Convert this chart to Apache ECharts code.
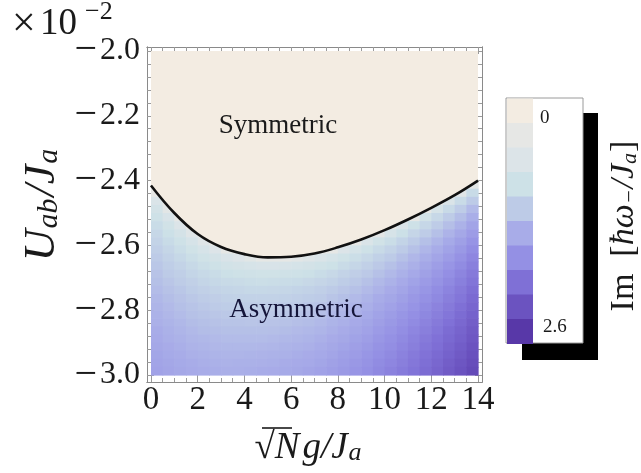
<!DOCTYPE html>
<html><head><meta charset="utf-8">
<script src="https://cdn.jsdelivr.net/npm/echarts@6/dist/echarts.min.js"></script>
<style>html,body{margin:0;padding:0;background:#fff}#c{width:641px;height:473px}</style>
</head><body><div id="c"></div>
<script>
// ---- data ----
const xTickValues = [0, 2, 4, 6, 8, 10, 12, 14];
const yTickValues = [-3.0, -2.8, -2.6, -2.4, -2.2, -2.0];
const colX = [0.25, 0.75, 1.25, 1.75, 2.25, 2.75, 3.25, 3.75, 4.25, 4.75, 5.25, 5.75, 6.25, 6.75,
  7.25, 7.75, 8.25, 8.75, 9.25, 9.75, 10.25, 10.75, 11.25, 11.75, 12.25, 12.75, 13.25, 13.75];
const rowY = [-2.4125, -2.4375, -2.4625, -2.4875, -2.5125, -2.5375, -2.5625, -2.5875, -2.6125, -2.6375,
  -2.6625, -2.6875, -2.7125, -2.7375, -2.7625, -2.7875, -2.8125, -2.8375, -2.8625, -2.8875,
  -2.9125, -2.9375, -2.9625, -2.9875];
// Im[hbar w_-/J_a], one array per column (x = colX[j]), rows top to bottom (y = rowY[i])
const imByColumn = [
  [0.30,0.30,0.61,0.76,0.85,0.93,1.00,1.05,1.10,1.15,1.19,1.23,1.26,1.30,1.33,1.36,1.39,1.41,1.44,1.46,1.49,1.51,1.53,1.55],
  [0,0.30,0.30,0.41,0.66,0.79,0.88,0.95,1.01,1.07,1.12,1.16,1.20,1.24,1.28,1.31,1.34,1.37,1.40,1.42,1.45,1.47,1.50,1.52],
  [0,0,0,0.30,0.30,0.57,0.73,0.84,0.92,0.99,1.05,1.10,1.14,1.19,1.23,1.26,1.30,1.33,1.36,1.39,1.42,1.44,1.47,1.49],
  [0,0,0,0,0.30,0.30,0.49,0.69,0.81,0.90,0.97,1.03,1.09,1.13,1.18,1.22,1.25,1.29,1.32,1.35,1.38,1.41,1.44,1.46],
  [0,0,0,0,0,0.30,0.30,0.48,0.69,0.81,0.90,0.97,1.03,1.09,1.14,1.18,1.22,1.26,1.29,1.33,1.36,1.39,1.42,1.44],
  [0,0,0,0,0,0,0.30,0.30,0.55,0.73,0.84,0.93,0.99,1.05,1.11,1.16,1.20,1.24,1.28,1.31,1.34,1.37,1.40,1.43],
  [0,0,0,0,0,0,0.30,0.30,0.30,0.63,0.78,0.88,0.96,1.03,1.08,1.13,1.18,1.22,1.26,1.30,1.33,1.36,1.39,1.42],
  [0,0,0,0,0,0,0,0.30,0.30,0.54,0.73,0.85,0.94,1.01,1.07,1.12,1.17,1.22,1.26,1.30,1.33,1.36,1.40,1.42],
  [0,0,0,0,0,0,0,0.30,0.30,0.43,0.69,0.82,0.92,0.99,1.06,1.12,1.17,1.21,1.26,1.30,1.33,1.37,1.40,1.43],
  [0,0,0,0,0,0,0,0.30,0.30,0.30,0.66,0.81,0.91,0.99,1.06,1.12,1.17,1.22,1.26,1.30,1.34,1.38,1.41,1.44],
  [0,0,0,0,0,0,0,0.30,0.30,0.30,0.66,0.81,0.92,1.00,1.07,1.13,1.18,1.23,1.27,1.31,1.35,1.39,1.42,1.45],
  [0,0,0,0,0,0,0,0.30,0.30,0.30,0.68,0.82,0.93,1.01,1.08,1.14,1.20,1.24,1.29,1.33,1.37,1.40,1.44,1.47],
  [0,0,0,0,0,0,0,0.30,0.30,0.40,0.71,0.85,0.95,1.04,1.10,1.16,1.22,1.27,1.31,1.35,1.39,1.43,1.46,1.49],
  [0,0,0,0,0,0,0,0.30,0.30,0.51,0.75,0.88,0.98,1.06,1.13,1.19,1.24,1.29,1.33,1.37,1.41,1.45,1.48,1.52],
  [0,0,0,0,0,0,0,0.30,0.30,0.61,0.80,0.93,1.02,1.10,1.16,1.22,1.27,1.32,1.36,1.41,1.44,1.48,1.51,1.55],
  [0,0,0,0,0,0,0.30,0.30,0.30,0.72,0.87,0.98,1.07,1.15,1.21,1.27,1.32,1.37,1.41,1.45,1.49,1.52,1.56,1.59],
  [0,0,0,0,0,0,0.30,0.30,0.58,0.81,0.94,1.05,1.13,1.20,1.26,1.31,1.36,1.41,1.45,1.49,1.53,1.57,1.60,1.63],
  [0,0,0,0,0,0,0.30,0.30,0.72,0.90,1.01,1.11,1.18,1.25,1.31,1.36,1.41,1.46,1.50,1.54,1.58,1.61,1.65,1.68],
  [0,0,0,0,0,0.30,0.30,0.61,0.85,0.98,1.09,1.17,1.25,1.31,1.37,1.42,1.47,1.51,1.55,1.59,1.63,1.67,1.70,1.73],
  [0,0,0,0,0.30,0.30,0.39,0.79,0.96,1.08,1.17,1.25,1.32,1.38,1.44,1.49,1.54,1.58,1.62,1.66,1.70,1.73,1.77,1.80],
  [0,0,0,0,0.30,0.30,0.70,0.92,1.05,1.16,1.25,1.32,1.39,1.45,1.50,1.55,1.60,1.64,1.68,1.72,1.75,1.79,1.82,1.86],
  [0,0,0,0.30,0.30,0.60,0.88,1.04,1.16,1.25,1.33,1.40,1.46,1.52,1.57,1.62,1.67,1.71,1.75,1.79,1.82,1.86,1.89,1.92],
  [0,0,0.30,0.30,0.30,0.84,1.02,1.15,1.25,1.34,1.41,1.48,1.54,1.60,1.65,1.69,1.74,1.78,1.82,1.86,1.89,1.93,1.96,1.99],
  [0,0,0.30,0.30,0.78,1.00,1.14,1.26,1.35,1.43,1.50,1.56,1.62,1.67,1.72,1.77,1.81,1.85,1.89,1.93,1.97,2.00,2.03,2.06],
  [0,0.30,0.30,0.70,0.98,1.14,1.26,1.36,1.44,1.52,1.59,1.65,1.70,1.76,1.80,1.85,1.89,1.93,1.97,2.01,2.04,2.08,2.11,2.14],
  [0.30,0.30,0.62,0.96,1.14,1.27,1.38,1.47,1.54,1.61,1.68,1.74,1.79,1.84,1.89,1.93,1.97,2.01,2.06,2.09,2.13,2.16,2.20,2.23],
  [0.30,0.46,0.94,1.14,1.28,1.39,1.49,1.57,1.64,1.71,1.77,1.83,1.88,1.93,1.97,2.02,2.06,2.10,2.14,2.17,2.21,2.24,2.28,2.31],
  [0.40,0.95,1.16,1.31,1.43,1.53,1.61,1.69,1.76,1.82,1.88,1.93,1.98,2.03,2.08,2.12,2.16,2.20,2.24,2.27,2.31,2.34,2.37,2.41]
];
const boundaryX = [0, 1, 2, 3, 4, 5, 6, 7, 8, 9, 10, 11, 12, 13, 14];
const boundaryY = [-2.415, -2.500, -2.565, -2.605, -2.627, -2.637, -2.635, -2.625, -2.606, -2.582, -2.553, -2.520, -2.484, -2.445, -2.400];
const scaleMin = 0, scaleMax = 2.6;
const scaleLabels = ['0', '2.6'];
const scaleColors = ['#F3ECE2','#E6E7E5','#DCE4E8','#CDE1E7','#BDCBE7','#A8ACE8','#9490E4','#7F70D6','#6B53C0','#5838A8'];

// ---- styles ----
const SERIF = '"Liberation Serif", "DejaVu Serif", serif';
const INK = '#1a1a1a';
const FRAME = '#8a8a8a';
const TICK = '#9a9a9a';
const X_MIN = -0.17, X_MAX = 14.17, Y_MIN = -3.0216, Y_MAX = -1.9877;

const xMinorTicks = [];
for (let k = 1; k < 28; k++) { if (k % 4 !== 0) xMinorTicks.push(k * 0.5); }
const yMinorTicks = [];
for (let k = 1; k < 25; k++) { if (k % 5 !== 0) yMinorTicks.push(+(-3 + 0.04 * k).toFixed(2)); }

const cellData = [];
imByColumn.forEach((col, j) => col.forEach((v, i) => cellData.push([colX[j], rowY[i], v])));
const CELL_HALF_W = 0.25, CELL_HALF_H = 0.0125;

function renderCell(params, api) {
  const x = api.value(0), y = api.value(1);
  const p0 = api.coord([x - CELL_HALF_W, y + CELL_HALF_H]);
  const p1 = api.coord([x + CELL_HALF_W, y - CELL_HALF_H]);
  return { type: 'rect', shape: { x: p0[0], y: p0[1], width: p1[0] - p0[0] + 0.6, height: p1[1] - p0[1] + 0.6 },
    style: { fill: api.visual('color') } };
}

function mkX(pos, ticks, len, labels) {
  return { type: 'value', position: pos, min: X_MIN, max: X_MAX,
    axisLine: { show: true, onZero: false, lineStyle: { color: FRAME, width: 1 } },
    axisTick: { show: true, inside: true, length: len, customValues: ticks, lineStyle: { color: TICK, width: 1 } },
    axisLabel: { show: labels, customValues: ticks, margin: 2, fontFamily: SERIF, fontSize: 33, color: INK },
    splitLine: { show: false } };
}
function mkY(pos, ticks, len, labels) {
  return { type: 'value', position: pos, min: Y_MIN, max: Y_MAX,
    axisLine: { show: true, onZero: false, lineStyle: { color: FRAME, width: 1 } },
    axisTick: { show: true, inside: true, length: len, customValues: ticks, lineStyle: { color: TICK, width: 1 } },
    axisLabel: { show: labels, customValues: ticks, margin: 7, color: INK,
      formatter: v => '{m|' + (v < 0 ? '\u2212' : '') + '}{n|' + Math.abs(v).toFixed(1) + '}',
      rich: { m: { fontFamily: SERIF, fontSize: 40, color: INK, padding: [0, 3, 0, 0] }, n: { fontFamily: SERIF, fontSize: 32, color: INK } } },
    splitLine: { show: false } };
}

const chart = echarts.init(document.getElementById('c'), null, { renderer: 'canvas', width: 641, height: 473 });

const boundaryData = boundaryX.map((x, i) => [x, boundaryY[i]]);

// colorbar (legend) graphics
const CB_X = 507, CB_Y = 98.5, CB_W = 26, CB_H = 24.5;
const cbElems = [
  { type: 'rect', shape: { x: 522, y: 113, width: 76, height: 247 }, style: { fill: '#000' }, z: 1 },
  { type: 'rect', shape: { x: 506, y: 98, width: 77, height: 245 }, style: { fill: '#fff', stroke: '#9a9a9a', lineWidth: 1 }, z: 2 }
];
scaleColors.forEach((c, i) => cbElems.push({ type: 'rect', shape: { x: CB_X, y: CB_Y + i * CB_H, width: CB_W, height: CB_H + 0.5 }, style: { fill: c }, z: 3 }));

const txt = (x, y, text, size, extra) => Object.assign({ type: 'text', x, y, z: 10,
  style: Object.assign({ text, fontFamily: SERIF, fontSize: size, fill: INK, textAlign: 'center', align: 'center', textVerticalAlign: 'middle', verticalAlign: 'middle' }, extra || {}) });
const centered = { textAlign: 'center', align: 'center', textVerticalAlign: 'middle', verticalAlign: 'middle', fill: INK };

const option = {
  backgroundColor: '#fff',
  animation: false,
  grid: { left: 147, top: 47, width: 335, height: 335, containLabel: false },
  xAxis: [ mkX('bottom', xTickValues, 7, true), mkX('top', xTickValues, 7, false), mkX('bottom', xMinorTicks, 4, false), mkX('top', xMinorTicks, 4, false) ],
  yAxis: [ mkY('left', yTickValues, 7, true), mkY('right', yTickValues, 7, false), mkY('left', yMinorTicks, 4, false), mkY('right', yMinorTicks, 4, false) ],
  visualMap: { type: 'continuous', show: false, min: scaleMin, max: scaleMax, dimension: 2, seriesIndex: 0, inRange: { color: scaleColors } },
  series: [
    { type: 'custom', xAxisIndex: 0, yAxisIndex: 0, renderItem: renderCell, data: cellData, z: 2, silent: true },
    { type: 'line', xAxisIndex: 0, yAxisIndex: 0, data: boundaryData, smooth: 0.4, symbol: 'none', z: 5, silent: true,
      lineStyle: { color: '#111', width: 2.6 },
      areaStyle: { color: scaleColors[0], opacity: 1, origin: yTickValues[yTickValues.length - 1] } }
  ],
  graphic: cbElems.concat([
    txt(12, 25, '\u00d7', 42, { textAlign: 'left', align: 'left' }),
    txt(40, 24, '10', 37, { textAlign: 'left', align: 'left' }),
    txt(85, 12, '\u22122', 26, { textAlign: 'left', align: 'left' }),
    txt(278, 126, 'Symmetric', 27),
    txt(296, 310, 'Asymmetric', 27, { fill: '#15153a' }),
    txt(540, 118, scaleLabels[0], 19, { textAlign: 'left', align: 'left' }),
    txt(543, 327, scaleLabels[1], 19, { textAlign: 'left', align: 'left' }),
    { type: 'text', x: 42, y: 204, rotation: Math.PI / 2, z: 10,
      style: Object.assign({ text: '{i|U}{s|ab}{i|/J}{s|a}',
        rich: { i: { fontFamily: SERIF, fontStyle: 'italic', fontSize: 44, verticalAlign: 'top', lineHeight: 44 },
                s: { fontFamily: SERIF, fontStyle: 'italic', fontSize: 30, verticalAlign: 'bottom', lineHeight: 30, padding: [26, 2, 0, 1] } } }, centered) },
    { type: 'text', x: 308, y: 448, z: 10,
      style: Object.assign({ text: '{r|\u221a}{i|N}{g|g/J}{s|a}',
        rich: { r: { fontFamily: SERIF, fontSize: 37, verticalAlign: 'top', lineHeight: 37 },
                i: { fontFamily: SERIF, fontStyle: 'italic', fontSize: 37, verticalAlign: 'top', lineHeight: 37, padding: [0, 3, 0, 0] },
                g: { fontFamily: SERIF, fontStyle: 'italic', fontSize: 37, verticalAlign: 'top', lineHeight: 37 },
                s: { fontFamily: SERIF, fontStyle: 'italic', fontSize: 26, verticalAlign: 'bottom', lineHeight: 26, padding: [21, 0, 0, 1] } } }, centered) },
    { type: 'line', shape: { x1: 262, y1: 428, x2: 292, y2: 428 }, style: { stroke: INK, lineWidth: 1.6 }, z: 10 },
    { type: 'text', x: 624, y: 226, rotation: Math.PI / 2, z: 10,
      style: Object.assign({ text: '{r|Im  [}{i|\u0127\u03c9}{s|\u2212}{i|/J}{s|a}{r|]}',
        rich: { r: { fontFamily: SERIF, fontSize: 34, verticalAlign: 'top', lineHeight: 34 },
                i: { fontFamily: SERIF, fontStyle: 'italic', fontSize: 34, verticalAlign: 'top', lineHeight: 34 },
                s: { fontFamily: SERIF, fontStyle: 'italic', fontSize: 22, verticalAlign: 'bottom', lineHeight: 22, padding: [18, 1, 0, 0] } } }, centered) }
  ])
};
chart.setOption(option);
</script>
</body></html>
